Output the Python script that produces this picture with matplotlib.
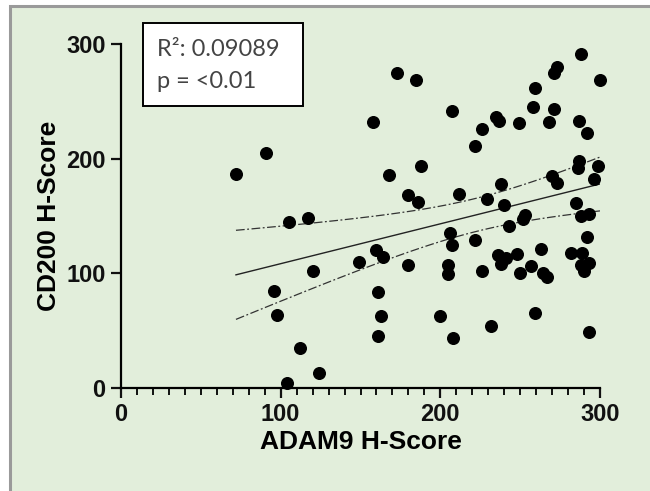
import matplotlib.pyplot as plt
from matplotlib.patches import Rectangle
import numpy as np

# values
adam9 = [72, 91, 96, 98, 104, 105, 112, 117, 120, 124,
         149, 158, 160, 161, 161, 163, 164, 168, 173, 180,
         180, 185, 186, 188, 200, 205, 205, 206, 207, 207,
         208, 212, 222, 222, 226, 226, 229, 232, 235, 237,
         238, 240, 243, 236, 241, 238, 248, 249, 250, 252,
         253, 257, 259, 258, 259, 263, 264, 267, 268, 270,
         273, 271, 271, 273, 282, 285, 286, 287, 287, 288,
         288, 289, 288, 290, 293, 293, 292, 292, 293, 296,
         299, 300]
cd200 = [187, 205, 85, 64, 4, 145, 35, 148, 102, 13,
         110, 232, 120, 84, 45, 63, 114, 186, 275, 107,
         168, 269, 162, 194, 63, 107, 99, 135, 125, 242,
         44, 169, 211, 129, 226, 102, 165, 54, 236, 233,
         178, 160, 141, 116, 113, 108, 117, 231, 100, 147,
         151, 106, 262, 245, 65, 121, 100, 97, 232, 185,
         179, 243, 275, 280, 118, 161, 192, 198, 233, 291,
         150, 118, 107, 102, 109, 152, 132, 222, 49, 182,
         194, 269]
r2_text = "R\u00b2: 0.09089"
p_text = "p = <0.01"
ticks = [0, 100, 200, 300]

x = np.array(adam9, dtype=float)
y = np.array(cd200, dtype=float)
slope, intercept = np.polyfit(x, y, 1)
n = len(x)
resid = y - (slope * x + intercept)
s = np.sqrt(np.sum(resid ** 2) / (n - 2))
sxx = np.sum((x - x.mean()) ** 2)
xs = np.linspace(x.min(), x.max(), 100)
fit = slope * xs + intercept
half = 1.99 * s * np.sqrt(1 / n + (xs - x.mean()) ** 2 / sxx)

W, H = 650, 491
green = '#e2eedb'
fig = plt.figure(figsize=(6.5, 4.91), dpi=100, facecolor='white')
frame = Rectangle((10 / W, -0.1), 1.2, (H - 6) / H + 0.1,
                  transform=fig.transFigure, facecolor=green,
                  edgecolor='#9a9a9a', linewidth=2.2, zorder=-10)
fig.add_artist(frame)

ax = fig.add_axes([121 / W, (H - 388) / H, 479 / W, 344 / H])
ax.set_facecolor('none')
ax.set_zorder(5)
ax.scatter(x, y, s=70, color='black', zorder=3, clip_on=False)
ax.plot(xs, fit, color='#222222', lw=1.0)
ax.plot(xs, fit + half, color='#333333', lw=0.9, ls=(0, (7, 2, 1.5, 2)))
ax.plot(xs, fit - half, color='#333333', lw=0.9, ls=(0, (7, 2, 1.5, 2)))

ax.set_xlim(0, 300)
ax.set_ylim(0, 300)
ax.set_xticks(ticks)
ax.set_yticks(ticks)
ax.set_xticks(np.arange(0, 301, 10), minor=True)
for side in ['top', 'right']:
    ax.spines[side].set_visible(False)
for side in ['left', 'bottom']:
    ax.spines[side].set_linewidth(1.6)
ax.tick_params(axis='both', which='major', width=1.6, length=7,
               labelsize=17, pad=4, colors='#111111')
ax.tick_params(axis='x', which='minor', width=1.3, length=5)
for lab in ax.get_xticklabels() + ax.get_yticklabels():
    lab.set_fontweight('bold')
    lab.set_fontfamily('Liberation Sans')

ax.set_xlabel('ADAM9 H-Score', fontsize=19, fontweight='bold',
              family='Liberation Sans', labelpad=3)
ax.set_ylabel('CD200 H-Score', fontsize=19, fontweight='bold',
              family='Liberation Sans', labelpad=4)

# annotation box
box = Rectangle((143 / W, 1 - 106 / H), 160 / W, 83 / H,
                transform=fig.transFigure, facecolor='white',
                edgecolor='black', linewidth=1.4, zorder=6)
fig.add_artist(box)
fig.text(157 / W, 1 - 49 / H, r2_text, va='center', ha='left',
         fontsize=17, family='Lato', color='#444444', zorder=7)
fig.text(157 / W, 1 - 82 / H, p_text, va='center', ha='left',
         fontsize=17, family='Lato', color='#444444', zorder=7)

fig.savefig('out.png', dpi=100)
